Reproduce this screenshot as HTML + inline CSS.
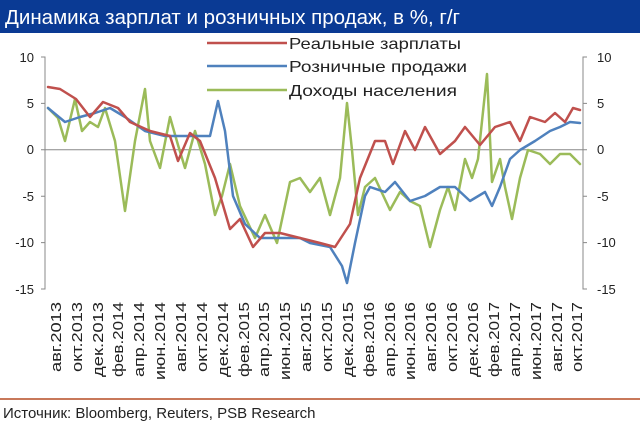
<!DOCTYPE html>
<html><head><meta charset="utf-8"><style>
html,body{margin:0;padding:0;background:#fff;}
body{width:640px;height:427px;overflow:hidden;font-family:"Liberation Sans",sans-serif;}
</style></head><body>
<svg width="640" height="427" viewBox="0 0 640 427" xmlns="http://www.w3.org/2000/svg" font-family="Liberation Sans, sans-serif">
<rect x="0" y="0" width="640" height="33" fill="#0a3a94"/>
<text x="5" y="24" fill="#fff" font-size="20" textLength="455" lengthAdjust="spacingAndGlyphs">Динамика зарплат и розничных продаж, в %, г/г</text>
<!-- legend -->
<g font-size="16" fill="#222">
<line x1="207" y1="43" x2="287" y2="43" stroke="#c0504d" stroke-width="2.5"/><text x="289" y="49" textLength="172" lengthAdjust="spacingAndGlyphs">Реальные  зарплаты</text>
<line x1="207" y1="66" x2="287" y2="66" stroke="#4f81bd" stroke-width="2.5"/><text x="289" y="72" textLength="178" lengthAdjust="spacingAndGlyphs">Розничные  продажи</text>
<line x1="207" y1="90" x2="287" y2="90" stroke="#9bbb59" stroke-width="2.5"/><text x="289" y="96" textLength="168" lengthAdjust="spacingAndGlyphs">Доходы населения</text>
</g>
<!-- axes -->
<g stroke="#888" stroke-width="1" fill="none">
<path d="M41,57 H45 V289 H41"/>
<path d="M41,103.4 H45 M41,149.8 H45 M41,196.2 H45 M41,242.6 H45"/>
<path d="M587,57 H583 V289 H587"/>
<path d="M587,103.4 H583 M587,149.8 H583 M587,196.2 H583 M587,242.6 H583"/>
<line x1="45" y1="149.8" x2="583" y2="149.8"/>
</g>
<g font-size="13" fill="#222">
<text x="34" y="62" text-anchor="end">10</text>
<text x="34" y="108" text-anchor="end">5</text>
<text x="34" y="154" text-anchor="end">0</text>
<text x="34" y="201" text-anchor="end">-5</text>
<text x="34" y="247" text-anchor="end">-10</text>
<text x="34" y="294" text-anchor="end">-15</text>
<text x="597" y="62">10</text>
<text x="597" y="108">5</text>
<text x="597" y="154">0</text>
<text x="597" y="201">-5</text>
<text x="597" y="247">-10</text>
<text x="597" y="294">-15</text>
</g>
<g fill="none" stroke-width="2.5" stroke-linejoin="round" stroke-linecap="round">
<polyline stroke="#9bbb59" points="48,108 58,118 65,141 75,99 82,131 90,122 98,127 105,108 115,141 125,211 135,141 145,89 150,141 160,168 170,117 178,145 185,168 195,131 205,164 215,215 222,196 230,164 240,206 255,238 265,215 277,243 290,182 300,178 310,192 320,178 330,215 340,178 347,103 352,150 358,215 365,187 375,178 390,210 400,192 410,201 420,206 430,247 440,210 448,187 455,210 465,159 472,178 478,159 487,74 492,182 500,159 505,187 512,219 520,178 528,150 540,154 550,164 560,154 570,154 580,164"/>
<polyline stroke="#4f81bd" points="48,108 65,122 80,117 95,113 110,108 125,117 145,131 165,136 200,136 210,136 218,101 225,131 233,196 245,224 260,238 280,238 300,238 310,243 330,247 342,266 347,283 355,243 365,196 370,187 385,192 395,182 410,201 425,196 440,187 455,187 470,201 485,192 492,206 500,187 510,159 520,150 535,141 550,131 560,127 570,122 580,123"/>
<polyline stroke="#c0504d" points="48,87 60,89 76,99 90,117 103,102 118,108 130,122 150,131 170,136 178,161 190,133 200,141 215,178 230,229 240,219 253,247 265,233 280,233 300,238 320,243 335,247 350,224 360,178 375,141 385,141 393,164 405,131 415,150 425,127 440,154 455,141 465,127 480,145 495,127 510,122 520,141 530,117 545,122 555,113 565,122 573,108 580,110"/>
</g>
<!-- x labels -->
<g font-size="15" fill="#222">
<text transform="translate(61,302) rotate(-90)" text-anchor="end" textLength="70" lengthAdjust="spacingAndGlyphs">авг.2013</text>
<text transform="translate(82,302) rotate(-90)" text-anchor="end" textLength="70" lengthAdjust="spacingAndGlyphs">окт.2013</text>
<text transform="translate(103,302) rotate(-90)" text-anchor="end" textLength="75" lengthAdjust="spacingAndGlyphs">дек.2013</text>
<text transform="translate(123,302) rotate(-90)" text-anchor="end" textLength="75" lengthAdjust="spacingAndGlyphs">фев.2014</text>
<text transform="translate(144,302) rotate(-90)" text-anchor="end" textLength="75" lengthAdjust="spacingAndGlyphs">апр.2014</text>
<text transform="translate(165,302) rotate(-90)" text-anchor="end" textLength="78" lengthAdjust="spacingAndGlyphs">июн.2014</text>
<text transform="translate(186,302) rotate(-90)" text-anchor="end" textLength="70" lengthAdjust="spacingAndGlyphs">авг.2014</text>
<text transform="translate(207,302) rotate(-90)" text-anchor="end" textLength="70" lengthAdjust="spacingAndGlyphs">окт.2014</text>
<text transform="translate(228,302) rotate(-90)" text-anchor="end" textLength="75" lengthAdjust="spacingAndGlyphs">дек.2014</text>
<text transform="translate(249,302) rotate(-90)" text-anchor="end" textLength="75" lengthAdjust="spacingAndGlyphs">фев.2015</text>
<text transform="translate(269,302) rotate(-90)" text-anchor="end" textLength="75" lengthAdjust="spacingAndGlyphs">апр.2015</text>
<text transform="translate(290,302) rotate(-90)" text-anchor="end" textLength="78" lengthAdjust="spacingAndGlyphs">июн.2015</text>
<text transform="translate(311,302) rotate(-90)" text-anchor="end" textLength="70" lengthAdjust="spacingAndGlyphs">авг.2015</text>
<text transform="translate(332,302) rotate(-90)" text-anchor="end" textLength="70" lengthAdjust="spacingAndGlyphs">окт.2015</text>
<text transform="translate(353,302) rotate(-90)" text-anchor="end" textLength="75" lengthAdjust="spacingAndGlyphs">дек.2015</text>
<text transform="translate(374,302) rotate(-90)" text-anchor="end" textLength="75" lengthAdjust="spacingAndGlyphs">фев.2016</text>
<text transform="translate(395,302) rotate(-90)" text-anchor="end" textLength="75" lengthAdjust="spacingAndGlyphs">апр.2016</text>
<text transform="translate(415,302) rotate(-90)" text-anchor="end" textLength="78" lengthAdjust="spacingAndGlyphs">июн.2016</text>
<text transform="translate(436,302) rotate(-90)" text-anchor="end" textLength="70" lengthAdjust="spacingAndGlyphs">авг.2016</text>
<text transform="translate(457,302) rotate(-90)" text-anchor="end" textLength="70" lengthAdjust="spacingAndGlyphs">окт.2016</text>
<text transform="translate(478,302) rotate(-90)" text-anchor="end" textLength="75" lengthAdjust="spacingAndGlyphs">дек.2016</text>
<text transform="translate(499,302) rotate(-90)" text-anchor="end" textLength="75" lengthAdjust="spacingAndGlyphs">фев.2017</text>
<text transform="translate(520,302) rotate(-90)" text-anchor="end" textLength="75" lengthAdjust="spacingAndGlyphs">апр.2017</text>
<text transform="translate(541,302) rotate(-90)" text-anchor="end" textLength="78" lengthAdjust="spacingAndGlyphs">июн.2017</text>
<text transform="translate(562,302) rotate(-90)" text-anchor="end" textLength="70" lengthAdjust="spacingAndGlyphs">авг.2017</text>
<text transform="translate(582,302) rotate(-90)" text-anchor="end" textLength="70" lengthAdjust="spacingAndGlyphs">окт.2017</text>
</g>
<line x1="0" y1="399" x2="640" y2="399" stroke="#c8785a" stroke-width="2"/>
<text x="3" y="418" font-size="15" fill="#222">Источник: Bloomberg, Reuters, PSB Research</text>
</svg>
</body></html>
